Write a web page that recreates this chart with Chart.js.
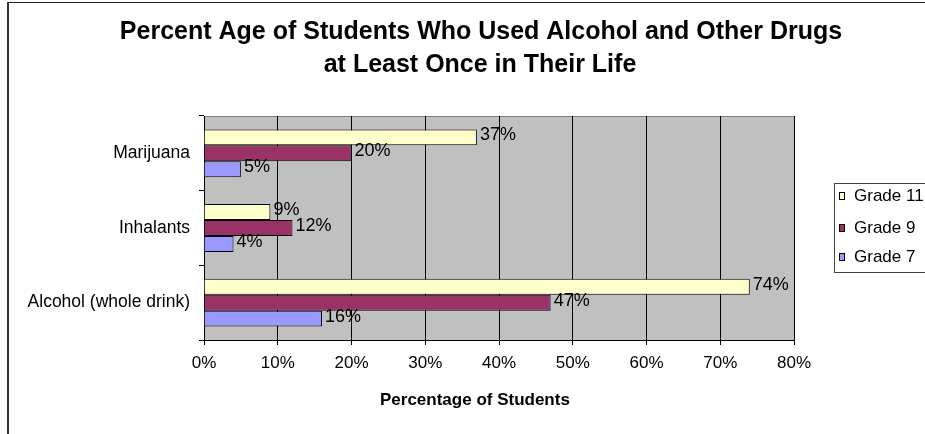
<!DOCTYPE html>
<html>
<head>
<meta charset="utf-8">
<script src="https://cdn.jsdelivr.net/npm/chart.js@4"></script>
<style>
  html, body { margin: 0; padding: 0; background: #fff; }
  #wrap { width: 925px; height: 434px; position: relative; }
</style>
</head>
<body>
<div id="wrap"><canvas id="chart" width="925" height="434"></canvas></div>
<script>
// chart data
const categories = ['Marijuana', 'Inhalants', 'Alcohol (whole drink)'];
const grade11 = [37, 9, 74];
const grade9 = [20, 12, 47];
const grade7 = [5, 4, 16];
const seriesNames = ['Grade 11', 'Grade 9', 'Grade 7'];
const xTicks = [0, 10, 20, 30, 40, 50, 60, 70, 80];
const titleLines = ['Percent Age of Students Who Used Alcohol and Other Drugs', 'at Least Once in Their Life'];
const xTitle = 'Percentage of Students';

const FONT = '"Liberation Sans", Arial, sans-serif';
const colors = ['#FFFFCC', '#993366', '#9999FF'];

// grey plot background + frame, outer chart border
const backdrop = {
    id: 'backdrop',
    beforeDraw(chart) {
        const { ctx, chartArea: a } = chart;
        ctx.save();
        ctx.fillStyle = '#C0C0C0';
        ctx.fillRect(a.left, a.top, a.right - a.left, a.bottom - a.top);
        ctx.strokeStyle = '#808080';
        ctx.lineWidth = 1;
        ctx.beginPath();
        ctx.moveTo(a.left, a.top + 0.5);
        ctx.lineTo(a.right + 0.5, a.top + 0.5);
        ctx.lineTo(a.right + 0.5, a.bottom);
        ctx.stroke();
        // outer frame
        ctx.strokeStyle = '#222';
        ctx.beginPath();
        ctx.moveTo(7, 2.5); ctx.lineTo(925, 2.5);
        ctx.stroke();
        ctx.lineWidth = 2;
        ctx.strokeStyle = '#333';
        ctx.beginPath();
        ctx.moveTo(8, 2); ctx.lineTo(8, 434);
        ctx.stroke();
        ctx.restore();
    }
};

// value labels, title, axis title, legend
const extras = {
    id: 'extras',
    afterDatasetsDraw(chart) {
        const { ctx } = chart;
        ctx.save();
        ctx.font = '18px ' + FONT;
        ctx.fillStyle = '#000';
        ctx.textAlign = 'left';
        ctx.textBaseline = 'middle';
        chart.data.datasets.forEach((ds, i) => {
            chart.getDatasetMeta(i).data.forEach((bar, j) => {
                ctx.fillText(ds.data[j] + '%', bar.x + 3, bar.y - 2);
            });
        });
        ctx.restore();
    },
    afterDraw(chart) {
        const { ctx } = chart;
        ctx.save();
        ctx.fillStyle = '#000';
        ctx.textAlign = 'center';
        ctx.textBaseline = 'middle';
        ctx.font = 'bold 25px ' + FONT;
        ctx.fillText(titleLines[0], 481, 32);
        ctx.fillText(titleLines[1], 480, 65);

        ctx.font = 'bold 17px ' + FONT;
        ctx.textAlign = 'left';
        ctx.fillText(xTitle, 380, 400);

        // legend
        ctx.fillStyle = '#fff';
        ctx.fillRect(834, 183, 100, 89);
        ctx.strokeStyle = '#444';
        ctx.lineWidth = 1;
        ctx.strokeRect(834.5, 183.5, 100, 89);
        const ys = [196, 228, 257];
        ctx.font = '17px ' + FONT;
        chart.data.datasets.forEach((ds, i) => {
            ctx.fillStyle = ds.backgroundColor;
            ctx.fillRect(839, ys[i] - 4, 6, 8);
            ctx.strokeStyle = '#000';
            ctx.strokeRect(839.5, ys[i] - 3.5, 5, 7);
            ctx.fillStyle = '#000';
            ctx.fillText(ds.label, 854, ys[i]);
        });
        ctx.restore();
    }
};

new Chart(document.getElementById('chart'), {
    type: 'bar',
    data: {
        labels: categories,
        datasets: [grade11, grade9, grade7].map((vals, i) => ({
            label: seriesNames[i],
            data: vals,
            backgroundColor: colors[i],
            borderColor: '#000',
            borderWidth: 1,
            borderSkipped: 'start',
            categoryPercentage: 0.64,
            barPercentage: 1.0
        }))
    },
    options: {
        indexAxis: 'y',
        responsive: false,
        animation: false,
        layout: { padding: { left: 0, top: 116, right: 131, bottom: 0 } },
        plugins: { legend: { display: false }, title: { display: false }, tooltip: { enabled: false } },
        scales: {
            x: {
                min: xTicks[0],
                max: xTicks[xTicks.length - 1],
                afterBuildTicks: (scale) => { scale.ticks = xTicks.map(v => ({ value: v })); },
                afterFit: (scale) => { scale.height = 94; },
                grid: { color: '#000', lineWidth: 1, tickLength: 5 },
                border: { color: '#000', width: 1 },
                ticks: {
                    color: '#000',
                    font: { family: FONT, size: 17 },
                    padding: 8,
                    maxRotation: 0,
                    callback: (v) => v + '%'
                }
            },
            y: {
                afterFit: (scale) => { scale.width = 204; },
                grid: { drawOnChartArea: false, color: '#000', tickLength: 5, offset: true },
                border: { color: '#000', width: 1 },
                ticks: {
                    color: '#000',
                    font: { family: FONT, size: 17.5 },
                    padding: 9
                }
            }
        }
    },
    plugins: [backdrop, extras]
});
</script>
</body>
</html>
